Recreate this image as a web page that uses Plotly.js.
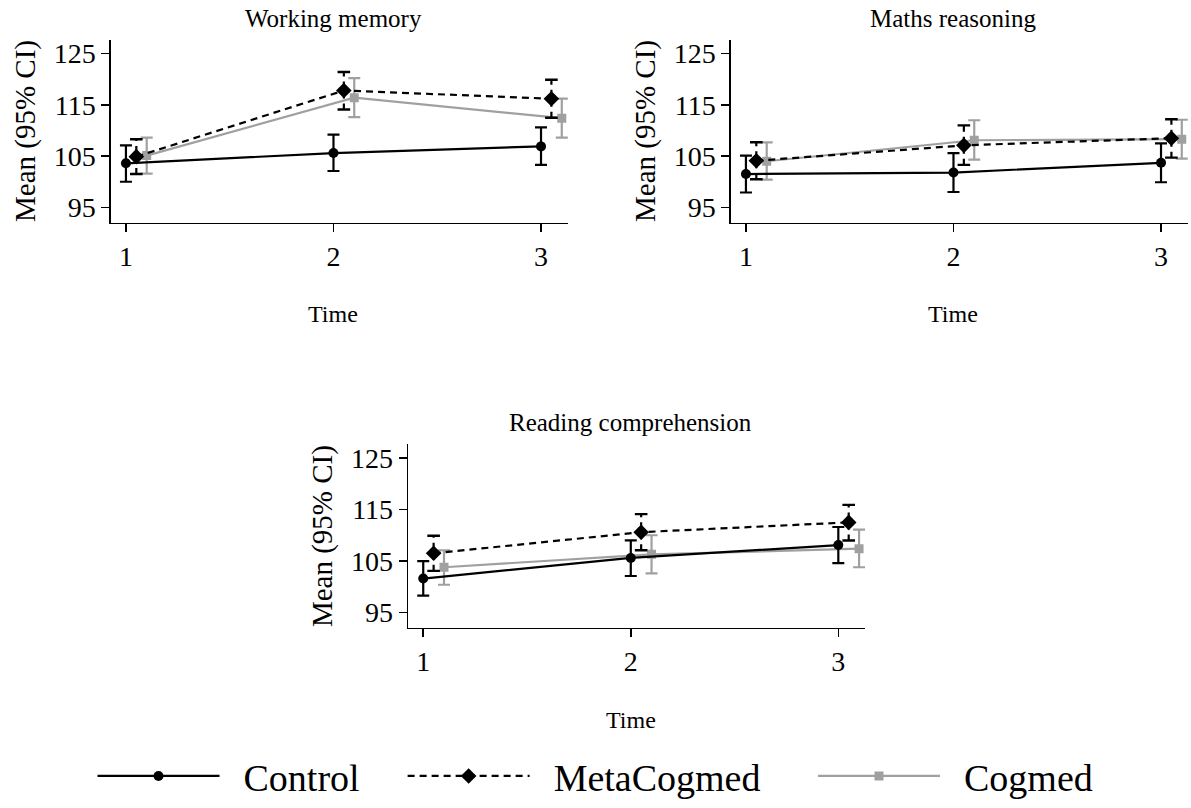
<!DOCTYPE html>
<html>
<head>
<meta charset="utf-8">
<script src="https://cdn.plot.ly/plotly-3.0.1.min.js"></script>
<style>html,body{margin:0;padding:0;background:#fff}#chart{width:1191px;height:808px}</style>
</head>
<body>
<div id="chart"></div>
<script>
// ---------- data ----------
const times = [1, 2, 3];
const groups = ["Control", "MetaCogmed", "Cogmed"];
const panelTitles = ["Working memory", "Maths reasoning", "Reading comprehension"];
const yTicks = [95, 105, 115, 125];

// Working memory
const wmControlMean = [103.6, 105.6, 106.9];
const wmControlLo   = [100.0, 102.1, 103.3];
const wmControlHi   = [107.1, 109.2, 110.6];
const wmMetaMean    = [104.9, 117.8, 116.2];
const wmMetaLo      = [101.5, 114.1, 112.5];
const wmMetaHi      = [108.3, 121.4, 119.9];
const wmCogMean     = [105.1, 116.4, 112.4];
const wmCogLo       = [101.6, 112.6, 108.6];
const wmCogHi       = [108.6, 120.2, 116.2];

// Maths reasoning
const maControlMean = [101.5, 101.8, 103.7];
const maControlLo   = [97.9, 98.0, 99.9];
const maControlHi   = [105.1, 105.6, 107.5];
const maMetaMean    = [104.1, 107.1, 108.5];
const maMetaLo      = [100.5, 103.3, 104.7];
const maMetaHi      = [107.7, 111.0, 112.2];
const maCogMean     = [104.0, 108.1, 108.3];
const maCogLo       = [100.4, 104.3, 104.5];
const maCogHi       = [107.7, 112.0, 112.1];

// Reading comprehension
const rcControlMean = [101.6, 105.6, 108.1];
const rcControlLo   = [98.3, 102.1, 104.6];
const rcControlHi   = [105.0, 109.0, 111.6];
const rcMetaMean    = [106.5, 110.6, 112.5];
const rcMetaLo      = [103.1, 107.1, 109.0];
const rcMetaHi      = [109.9, 114.1, 115.9];
const rcCogMean     = [103.8, 106.3, 107.4];
const rcCogLo       = [100.4, 102.6, 103.8];
const rcCogHi       = [107.1, 110.0, 111.1];

// ---------- layout helpers ----------
const W = 1191, H = 808;
const FONT = "Liberation Serif";
const GREY = "#a0a0a0";
const NB = "\u00a0";
const shift = {Control: 0, MetaCogmed: 0.05, Cogmed: 0.1};
// legend label padding (lead, trail) in non-breaking spaces
const legendPad = {Control: [2, 4], MetaCogmed: [2, 5], Cogmed: [2, 0]};
function legendName(g) { return NB.repeat(legendPad[g][0]) + g + NB.repeat(legendPad[g][1]); }

const panels = [
  {t: panelTitles[0], ctl: [wmControlMean, wmControlLo, wmControlHi], meta: [wmMetaMean, wmMetaLo, wmMetaHi], cog: [wmCogMean, wmCogLo, wmCogHi], left: 111, top: 40, bottom: 225.3},
  {t: panelTitles[1], ctl: [maControlMean, maControlLo, maControlHi], meta: [maMetaMean, maMetaLo, maMetaHi], cog: [maCogMean, maCogLo, maCogHi], left: 731, top: 40, bottom: 225.3},
  {t: panelTitles[2], ctl: [rcControlMean, rcControlLo, rcControlHi], meta: [rcMetaMean, rcMetaLo, rcMetaHi], cog: [rcCogMean, rcCogLo, rcCogHi], left: 408.3, top: 449.3, bottom: 635.7}
];
const PW = 457;

const traces = [];
const layout = {
  width: W, height: H,
  margin: {l: 0, r: 0, t: 0, b: 0},
  paper_bgcolor: "#fff", plot_bgcolor: "#fff",
  font: {family: FONT, color: "#000", size: 22},
  showlegend: true,
  legend: {
    orientation: "h", x: 0.5, xanchor: "center", y: 1 - 786 / H, yanchor: "middle",
    font: {family: FONT, size: 38, color: "#000"}, itemwidth: 122,
    bgcolor: "rgba(0,0,0,0)", traceorder: "normal"
  },
  annotations: []
};

function xs(name) { return times.map(t => t + shift[name]); }

panels.forEach((p, i) => {
  const n = i + 1;
  const xa = "x" + (n === 1 ? "" : n), ya = "y" + (n === 1 ? "" : n);
  const xkey = "xaxis" + (n === 1 ? "" : n), ykey = "yaxis" + (n === 1 ? "" : n);
  const axisCommon = {
    showline: true, linecolor: "#000", linewidth: 1.6, showgrid: false, zeroline: false,
    ticks: "outside", ticklen: 8, tickwidth: 1.6, tickcolor: "#000",
    tickfont: {family: FONT, size: 28, color: "#000"}, fixedrange: true
  };
  layout[xkey] = Object.assign({}, axisCommon, {
    domain: [p.left / W, (p.left + PW) / W], anchor: ya,
    range: [0.928, 3.13], tickvals: times, ticktext: times.map(String)
  });
  layout[ykey] = Object.assign({}, axisCommon, {
    domain: [1 - p.bottom / H, 1 - p.top / H], anchor: xa,
    range: [92.05, 127.75], tickvals: yTicks, ticktext: yTicks.map(String)
  });

  const first = i === 0;
  // Cogmed (grey)
  const [cm, cl, ch] = p.cog;
  traces.push({
    type: "scatter", mode: "lines+markers", name: legendName(groups[2]), legendgroup: groups[2], legendrank: 3,
    showlegend: first, xaxis: xa, yaxis: ya, x: xs("Cogmed"), y: cm,
    line: {color: GREY, width: 2.2}, marker: {symbol: "square", size: 9, color: GREY},
    error_y: {type: "data", symmetric: false, array: ch.map((v, k) => v - cm[k]), arrayminus: cm.map((v, k) => v - cl[k]), color: GREY, thickness: 2.2, width: 6}
  });
  // MetaCogmed (black dashed)
  const [mm, ml, mh] = p.meta;
  const segX = [], segY = [];
  xs("MetaCogmed").forEach((x, k) => { segX.push(x, x, null); segY.push(ml[k], mh[k], null); });
  traces.push({
    type: "scatter", mode: "lines", showlegend: false, hoverinfo: "skip", legendgroup: groups[1],
    xaxis: xa, yaxis: ya, x: segX, y: segY, line: {color: "#000", width: 2.2, dash: "6px,5px"}
  });
  traces.push({
    type: "scatter", mode: "markers", showlegend: false, hoverinfo: "skip", legendgroup: groups[1],
    xaxis: xa, yaxis: ya, x: xs("MetaCogmed").concat(xs("MetaCogmed")), y: ml.concat(mh),
    marker: {symbol: "line-ew", size: 9, line: {color: "#000", width: 2.4}}
  });
  traces.push({
    type: "scatter", mode: "lines+markers", name: legendName(groups[1]), legendgroup: groups[1], legendrank: 2,
    showlegend: first, xaxis: xa, yaxis: ya, x: xs("MetaCogmed"), y: mm,
    line: {color: "#000", width: 2.2, dash: "7px,5px"}, marker: {symbol: "diamond", size: 12, color: "#000"}
  });
  // Control (black solid)
  const [km, kl, kh] = p.ctl;
  traces.push({
    type: "scatter", mode: "lines+markers", name: legendName(groups[0]), legendgroup: groups[0], legendrank: 1,
    showlegend: first, xaxis: xa, yaxis: ya, x: xs("Control"), y: km,
    line: {color: "#000", width: 2.2}, marker: {symbol: "circle", size: 10, color: "#000"},
    error_y: {type: "data", symmetric: false, array: kh.map((v, k) => v - km[k]), arrayminus: km.map((v, k) => v - kl[k]), color: "#000", thickness: 2.2, width: 6}
  });

  // panel title, x title, y title
  const tickTwoX = p.left + (2 - 0.928) / (3.13 - 0.928) * PW;
  layout.annotations.push({
    xref: "paper", yref: "paper", x: tickTwoX / W, y: 1 - (p.top - 21) / H, xanchor: "center", yanchor: "middle",
    text: p.t, showarrow: false, font: {family: FONT, size: 25, color: "#000"}
  });
  layout.annotations.push({
    xref: "paper", yref: "paper", x: tickTwoX / W, y: 1 - (p.bottom + 93) / H, xanchor: "center", yanchor: "middle",
    text: "Time", showarrow: false, font: {family: FONT, size: 24, color: "#000"}
  });
  layout.annotations.push({
    xref: "paper", yref: "paper", x: (p.left - 86) / W, y: 1 - ((p.top + p.bottom) / 2) / H, xanchor: "center", yanchor: "middle",
    text: "Mean (95% CI)", textangle: -90, showarrow: false, font: {family: FONT, size: 29, color: "#000"}
  });
});

Plotly.newPlot("chart", traces, layout, {displayModeBar: false, staticPlot: true});
</script>
</body>
</html>
